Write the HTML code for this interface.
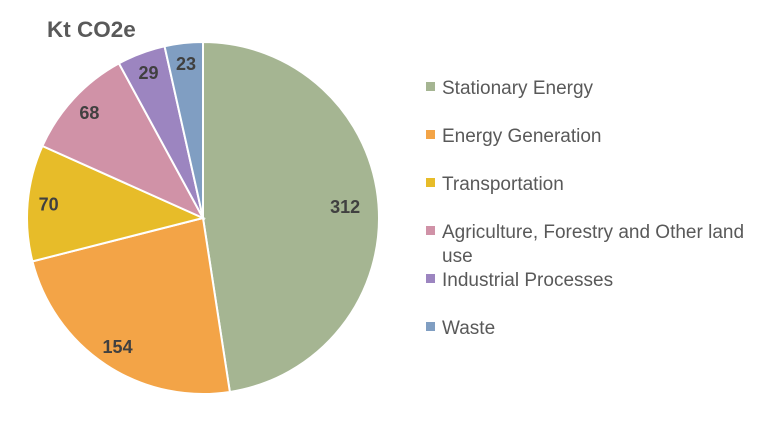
<!DOCTYPE html>
<html><head><meta charset="utf-8">
<style>
body{margin:0;background:#fff;width:784px;height:417px;overflow:hidden;font-family:"Liberation Sans",Calibri,sans-serif}
</style></head><body>
<svg width="784" height="417">
<text x="47" y="37" font-size="22.5" font-weight="bold" fill="#595959">Kt CO2e</text>
<g id="pie"></g>
<g id="legend"></g>
</svg>
<script>
const categories=["Stationary Energy","Energy Generation","Transportation","Agriculture, Forestry and Other land use","Industrial Processes","Waste"];
const values=[312,154,70,68,29,23];
const colors=["#A5B592","#F3A447","#E7BC29","#D092A7","#9C85C0","#809EC2"];
const ns="http://www.w3.org/2000/svg";
const cx=203,cy=218,r=176;
const total=values.reduce((a,b)=>a+b,0);
const pie=document.getElementById('pie');
let a0=0;
function pt(a,rr){return [cx+rr*Math.sin(a),cy-rr*Math.cos(a)];}
values.forEach((v,i)=>{
  const a1=a0+v/total*2*Math.PI;
  const [x0,y0]=pt(a0,r),[x1,y1]=pt(a1,r);
  const p=document.createElementNS(ns,'path');
  p.setAttribute('d',`M${cx},${cy}L${x0},${y0}A${r},${r} 0 ${a1-a0>Math.PI?1:0} 1 ${x1},${y1}Z`);
  p.setAttribute('fill',colors[i]);p.setAttribute('stroke','#fff');p.setAttribute('stroke-width','2');
  
  
  pie.appendChild(p);
  const am=(a0+a1)/2;const [lx,ly]=pt(am,r*(i===0?0.81:0.88));
  const t=document.createElementNS(ns,'text');
  t.setAttribute('x',lx);t.setAttribute('y',ly+6);t.setAttribute('text-anchor','middle');
  t.setAttribute('font-size','18');t.setAttribute('font-weight','bold');t.setAttribute('fill','#404040');
  t.textContent=v;
  
  
  pie.appendChild(t);
  a0=a1;
});
const lg=document.getElementById('legend');
categories.forEach((c,i)=>{
  const y=87+i*48;
  const g=document.createElementNS(ns,'g');
  
  
  const s=document.createElementNS(ns,'rect');
  s.setAttribute('x',426);s.setAttribute('y',y-5);s.setAttribute('width',9);s.setAttribute('height',9);s.setAttribute('fill',colors[i]);
  g.appendChild(s);
  const t=document.createElementNS(ns,'text');
  t.setAttribute('x',442);t.setAttribute('y',y+7);t.setAttribute('font-size','19');t.setAttribute('fill','#595959');
  if(i===3){t.textContent="Agriculture, Forestry and Other land";
    const t2=document.createElementNS(ns,'text');t2.setAttribute('x',442);t2.setAttribute('y',y+31);t2.setAttribute('font-size','19');t2.setAttribute('fill','#595959');t2.textContent="use";g.appendChild(t2);}
  else t.textContent=c;
  g.appendChild(t);
  lg.appendChild(g);
});
</script>
</body></html>
